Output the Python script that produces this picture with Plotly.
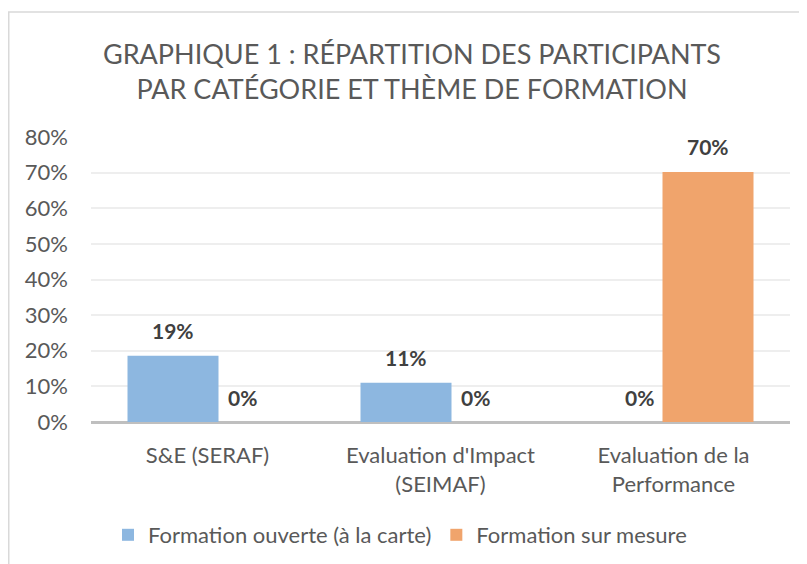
import plotly.graph_objects as go

categories = ["S&E (SERAF)", "Evaluation d'Impact<br>(SEIMAF)", "Evaluation de la<br>Performance"]
series_names = ["Formation ouverte (à la carte)", "Formation sur mesure"]
ouverte = [18.6, 11.0, 0.0]
sur_mesure = [0.0, 0.0, 70.2]
y_ticks = [0, 10, 20, 30, 40, 50, 60, 70, 80]
y_tick_labels = [f"{v}%" for v in y_ticks]

colors = ["#8db7e0", "#f0a46c"]
FONT = "Lato"

# page body has an 8px margin, so the figure is drawn 8px smaller
W, H = 799, 556
ML, MR, MT, MB = 83, 17, 129, 142
plot_w = W - ML - MR
plot_h = H - MT - MB
cat_px = plot_w / len(categories)
bar_px = 91.0
half_sep = 34.5  # bars overlap (Excel series overlap)
bar_w = bar_px / cat_px
offsets = [(-half_sep - bar_px / 2) / cat_px, (half_sep - bar_px / 2) / cat_px]

fig = go.Figure()
for name, vals, col, off in zip(series_names, [ouverte, sur_mesure], colors, offsets):
    fig.add_trace(go.Bar(x=categories, y=vals, name=name, width=bar_w, offset=off,
                         marker=dict(color=col, line=dict(width=0)), hoverinfo="skip"))

annotations = []
for si, vals in enumerate([ouverte, sur_mesure]):
    sign = -1 if si == 0 else 1
    for c, v in zip(categories, vals):
        annotations.append(dict(x=c, y=v, xref="x", yref="y", text=f"<b>{v:.0f}%</b>",
                                showarrow=False, xshift=sign * half_sep, yshift=25,
                                font=dict(family=FONT, size=21, color="#404040")))

fig.update_layout(
    width=W, height=H,
    margin=dict(l=ML, r=MR, t=MT, b=MB, autoexpand=False),
    paper_bgcolor="white", plot_bgcolor="white",
    barmode="overlay",
    title=dict(text="GRAPHIQUE 1 : RÉPARTITION DES PARTICIPANTS<br>PAR CATÉGORIE ET THÈME DE FORMATION",
               x=404 / W, xanchor="center", y=1 - 56 / H, yanchor="middle",
               font=dict(family=FONT, size=27, color="#595959")),
    font=dict(family=FONT, size=22, color="#595959"),
    xaxis=dict(showgrid=False, showline=False, zeroline=False, ticks="", automargin=False,
               tickfont=dict(family=FONT, size=22, color="#595959"), ticklabelstandoff=18),
    yaxis=dict(range=[0, 80], tickvals=y_ticks, ticktext=y_tick_labels, automargin=False,
               showgrid=True, gridcolor="#eeeeee", gridwidth=1.5,
               zeroline=True, zerolinecolor="#bfbfbf", zerolinewidth=2.5,
               showline=False, ticks="", ticklabelstandoff=22,
               tickfont=dict(family=FONT, size=22, color="#595959")),
    legend=dict(orientation="h", x=(100 - ML) / plot_w, xanchor="left", y=(414 - 527) / plot_h, yanchor="middle",
                font=dict(family=FONT, size=22, color="#595959"), traceorder="normal"),
    annotations=annotations,
    shapes=[dict(type="rect", xref="paper", yref="paper",
                 x0=(0.75 - ML) / plot_w, x1=(805 - ML) / plot_w,
                 y0=(414 - 565) / plot_h, y1=(414 - 4) / plot_h,
                 line=dict(color="#d9d9d9", width=1.5), fillcolor="rgba(0,0,0,0)", layer="below")],
)

fig.write_html("out.html")
